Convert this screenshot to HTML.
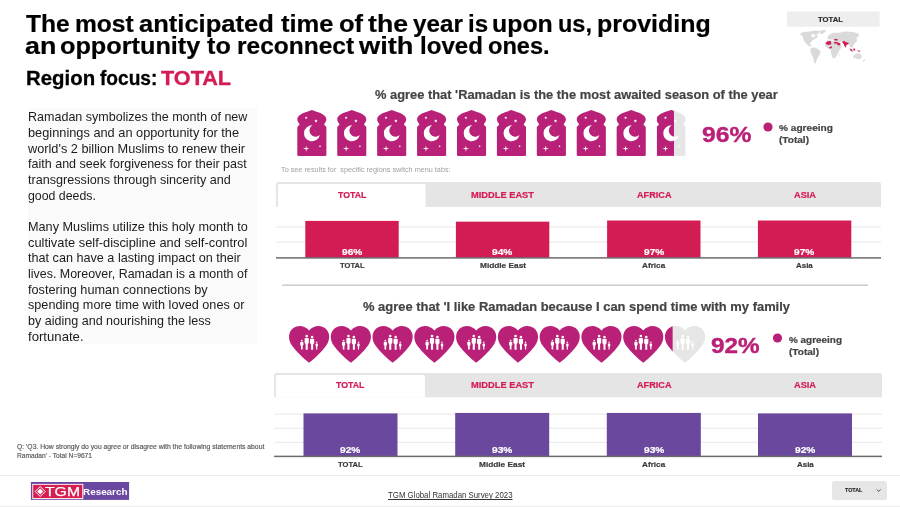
<!DOCTYPE html>
<html><head><meta charset="utf-8"><title>Ramadan survey</title>
<style>
html,body{margin:0;padding:0;background:#fff;}
body{width:900px;height:507px;position:relative;overflow:hidden;font-family:"Liberation Sans",sans-serif;}
.t{position:absolute;white-space:pre;line-height:1;transform-origin:0 50%;}
.b{position:absolute;}
svg{position:absolute;overflow:visible;}
#w{position:absolute;left:0;top:0;width:900px;height:507px;will-change:transform;}
</style></head><body><div id="w">
<div class="b" style="left:27.6px;top:108.4px;width:229.6px;height:235.8px;background:#fafafa"></div>
<svg style="left:0;top:0" width="900" height="507"><rect x="787" y="11.5" width="92.6" height="15.3" fill="#eeeeee"/></svg>
<svg width="0" height="0" style="left:0;top:0"><defs>
<clipPath id="ca"><path d="M1.2 46 Q0 46 0 44.8 L0 17.6 Q0 16.6 1.2 15.9 Q2.4 15.2 2.2 14.4 Q2 13.6 1.2 12.8 Q0 11.4 0 9.4 C0 4.4 7.2 2.7 14.55 0 C21.9 2.7 29.1 4.4 29.1 9.4 Q29.1 11.4 27.9 12.8 Q27.1 13.6 26.9 14.4 Q26.7 15.2 27.9 15.9 Q29.1 16.6 29.1 17.6 L29.1 44.8 Q29.1 46 27.9 46 Z"/></clipPath>
<clipPath id="ch"><path d="M20.2 36.9 C13.9 31.8 7.9 26 3.4 20 C-1.2 14.4 -1.1 6 4.4 2.1 C9.4 -1.4 16.2 -0.3 20.2 4.6 C24.2 -0.3 31 -1.4 36 2.1 C41.5 6 41.6 14.4 37 20 C32.5 26 26.5 31.8 20.2 36.9 Z"/></clipPath>
<g id="arch"><path d="M1.2 46 Q0 46 0 44.8 L0 17.6 Q0 16.6 1.2 15.9 Q2.4 15.2 2.2 14.4 Q2 13.6 1.2 12.8 Q0 11.4 0 9.4 C0 4.4 7.2 2.7 14.55 0 C21.9 2.7 29.1 4.4 29.1 9.4 Q29.1 11.4 27.9 12.8 Q27.1 13.6 26.9 14.4 Q26.7 15.2 27.9 15.9 Q29.1 16.6 29.1 17.6 L29.1 44.8 Q29.1 46 27.9 46 Z" fill="#b92077"/><path fill="#fff" fill-rule="evenodd" d="M15.1 15.42 A8 8 0 1 0 22.54 24.98 A6.1 6.1 0 1 1 15.1 15.42 Z"/><polygon points="8.90,6.40 9.34,7.29 10.33,7.44 9.61,8.13 9.78,9.11 8.90,8.65 8.02,9.11 8.19,8.13 7.47,7.44 8.46,7.29" fill="#fff"/><polygon points="18.70,9.40 19.20,10.41 20.32,10.57 19.51,11.36 19.70,12.48 18.70,11.95 17.70,12.48 17.89,11.36 17.08,10.57 18.20,10.41" fill="#fff"/><polygon points="8.90,35.50 9.47,38.13 12.10,38.70 9.47,39.27 8.90,41.90 8.33,39.27 5.70,38.70 8.33,38.13" fill="#fff"/><polygon points="22.70,35.10 23.12,35.88 23.90,36.30 23.12,36.72 22.70,37.50 22.28,36.72 21.50,36.30 22.28,35.88" fill="#fff"/><circle cx="17.7" cy="21.2" r="0.45" fill="#fff" opacity=".55"/></g>
<g id="heart"><path d="M20.2 36.9 C13.9 31.8 7.9 26 3.4 20 C-1.2 14.4 -1.1 6 4.4 2.1 C9.4 -1.4 16.2 -0.3 20.2 4.6 C24.2 -0.3 31 -1.4 36 2.1 C41.5 6 41.6 14.4 37 20 C32.5 26 26.5 31.8 20.2 36.9 Z" fill="#b92077"/><circle cx="12.9" cy="14.6" r="0.85" fill="#fff"/><path fill="#fff" d="M11.94 15.90 Q11.30 15.90 11.30 16.60 L11.30 19.13 L12.05 19.90 L12.05 23.60 L13.75 23.60 L13.75 19.90 L14.50 19.13 L14.50 16.60 Q14.50 15.90 13.86 15.90 Z"/><circle cx="17.8" cy="10.2" r="1.3" fill="#fff"/><path fill="#fff" d="M16.54 12.00 Q15.70 12.00 15.70 12.70 L15.70 17.00 L16.75 18.19 L16.75 23.90 L18.85 23.90 L18.85 18.19 L19.90 17.00 L19.90 12.70 Q19.90 12.00 19.06 12.00 Z"/><circle cx="23.2" cy="11.1" r="1.3" fill="#fff"/><path fill="#fff" d="M21.94 12.80 Q21.10 12.80 21.10 13.50 L21.10 17.46 L22.20 18.57 L22.20 23.90 L24.20 23.90 L24.20 18.57 L25.30 17.46 L25.30 13.50 Q25.30 12.80 24.46 12.80 Z"/><circle cx="27.8" cy="16.3" r="0.75" fill="#fff"/><path fill="#fff" d="M27.08 17.50 Q26.60 17.50 26.60 18.20 L26.60 20.10 L27.20 20.72 L27.20 23.70 L28.40 23.70 L28.40 20.72 L29.00 20.10 L29.00 18.20 Q29.00 17.50 28.52 17.50 Z"/></g>
<g id="archp"><g clip-path="url(#ca)"><rect x="0" y="0" width="29.1" height="46" fill="#e6e6e6"/><rect x="0" y="0" width="17.4" height="46" fill="#b92077"/></g><path fill="#fff" fill-rule="evenodd" d="M15.1 15.42 A8 8 0 1 0 22.54 24.98 A6.1 6.1 0 1 1 15.1 15.42 Z"/><polygon points="8.90,6.40 9.34,7.29 10.33,7.44 9.61,8.13 9.78,9.11 8.90,8.65 8.02,9.11 8.19,8.13 7.47,7.44 8.46,7.29" fill="#fff"/><polygon points="18.70,9.40 19.20,10.41 20.32,10.57 19.51,11.36 19.70,12.48 18.70,11.95 17.70,12.48 17.89,11.36 17.08,10.57 18.20,10.41" fill="#fff"/><polygon points="8.90,35.50 9.47,38.13 12.10,38.70 9.47,39.27 8.90,41.90 8.33,39.27 5.70,38.70 8.33,38.13" fill="#fff"/><polygon points="22.70,35.10 23.12,35.88 23.90,36.30 23.12,36.72 22.70,37.50 22.28,36.72 21.50,36.30 22.28,35.88" fill="#fff"/><circle cx="17.7" cy="21.2" r="0.45" fill="#fff" opacity=".55"/></g>
<g id="heartp"><g clip-path="url(#ch)"><rect x="-2" y="-2" width="45" height="40" fill="#e6e6e6"/><rect x="-2" y="-2" width="9.8" height="40" fill="#b92077"/></g><circle cx="12.9" cy="14.6" r="0.85" fill="#fff"/><path fill="#fff" d="M11.94 15.90 Q11.30 15.90 11.30 16.60 L11.30 19.13 L12.05 19.90 L12.05 23.60 L13.75 23.60 L13.75 19.90 L14.50 19.13 L14.50 16.60 Q14.50 15.90 13.86 15.90 Z"/><circle cx="17.8" cy="10.2" r="1.3" fill="#fff"/><path fill="#fff" d="M16.54 12.00 Q15.70 12.00 15.70 12.70 L15.70 17.00 L16.75 18.19 L16.75 23.90 L18.85 23.90 L18.85 18.19 L19.90 17.00 L19.90 12.70 Q19.90 12.00 19.06 12.00 Z"/><circle cx="23.2" cy="11.1" r="1.3" fill="#fff"/><path fill="#fff" d="M21.94 12.80 Q21.10 12.80 21.10 13.50 L21.10 17.46 L22.20 18.57 L22.20 23.90 L24.20 23.90 L24.20 18.57 L25.30 17.46 L25.30 13.50 Q25.30 12.80 24.46 12.80 Z"/><circle cx="27.8" cy="16.3" r="0.75" fill="#fff"/><path fill="#fff" d="M27.08 17.50 Q26.60 17.50 26.60 18.20 L26.60 20.10 L27.20 20.72 L27.20 23.70 L28.40 23.70 L28.40 20.72 L29.00 20.10 L29.00 18.20 Q29.00 17.50 28.52 17.50 Z"/></g>
</defs></svg>
<svg style="left:0;top:0" width="900" height="507"><use href="#arch" x="297.30" y="109.9"/><use href="#arch" x="337.22" y="109.9"/><use href="#arch" x="377.14" y="109.9"/><use href="#arch" x="417.06" y="109.9"/><use href="#arch" x="456.98" y="109.9"/><use href="#arch" x="496.90" y="109.9"/><use href="#arch" x="536.82" y="109.9"/><use href="#arch" x="576.74" y="109.9"/><use href="#arch" x="616.66" y="109.9"/><use href="#archp" x="656.58" y="109.9"/><use href="#heart" x="288.90" y="325.9"/><use href="#heart" x="330.67" y="325.9"/><use href="#heart" x="372.44" y="325.9"/><use href="#heart" x="414.21" y="325.9"/><use href="#heart" x="455.98" y="325.9"/><use href="#heart" x="497.75" y="325.9"/><use href="#heart" x="539.52" y="325.9"/><use href="#heart" x="581.29" y="325.9"/><use href="#heart" x="623.06" y="325.9"/><use href="#heartp" x="664.83" y="325.9"/><circle cx="768" cy="127" r="4.6" fill="#b92077"/><circle cx="777.5" cy="338" r="4.6" fill="#b92077"/><rect x="282" y="284.6" width="586" height="1.1" fill="#b9b9b9"/><rect x="0" y="475" width="900" height="1" fill="#ececec"/><rect x="0" y="506" width="900" height="1" fill="#eeeeee"/></svg>
<svg style="left:0;top:0" width="900" height="507"><path fill="#e5e5e5" d="M276.0 206.9 L276.0 184.7 Q276.0 182.1 278.6 182.1 L878.4 182.1 Q881 182.1 881 184.7 L881 206.9 Z"/><path fill="#fff" d="M277.9 206.9 L277.9 185.6 Q277.9 184 279.5 184 L424.0 184 Q425.6 184 425.6 185.6 L425.6 206.9 Z"/><rect x="276" y="241.40" width="605" height="1.2" fill="#ececec"/><rect x="276" y="226.40" width="605" height="1.2" fill="#ececec"/><rect x="305.30" y="220.90" width="93.4" height="37.00" fill="#d31c54"/><rect x="455.90" y="221.67" width="93.4" height="36.23" fill="#d31c54"/><rect x="607.10" y="220.52" width="93.4" height="37.38" fill="#d31c54"/><rect x="757.90" y="220.52" width="93.4" height="37.38" fill="#d31c54"/><rect x="276" y="257.15" width="605" height="1.5" fill="#6c6c6c"/></svg>
<svg style="left:0;top:0" width="900" height="507"><path fill="#e5e5e5" d="M274.1 397.25 L274.1 375.5 Q274.1 372.9 276.70000000000005 372.9 L879.4 372.9 Q882 372.9 882 375.5 L882 397.25 Z"/><path fill="#fff" d="M276.0 397.25 L276.0 376.5 Q276.0 374.9 277.6 374.9 L423.29999999999995 374.9 Q424.9 374.9 424.9 376.5 L424.9 397.25 Z"/><rect x="274.1" y="441.80" width="607.9" height="1.2" fill="#ececec"/><rect x="274.1" y="427.70" width="607.9" height="1.2" fill="#ececec"/><rect x="274.1" y="413.60" width="607.9" height="1.2" fill="#ececec"/><rect x="303.50" y="413.40" width="94" height="43.00" fill="#69489d"/><rect x="455.20" y="412.93" width="94" height="43.47" fill="#69489d"/><rect x="606.80" y="412.93" width="94" height="43.47" fill="#69489d"/><rect x="758.00" y="413.40" width="94" height="43.00" fill="#69489d"/><rect x="274.1" y="455.65" width="607.9" height="1.5" fill="#6c6c6c"/></svg>
<svg style="left:794px;top:26px" width="76" height="42" viewBox="0 0 900 497"><polygon fill="#dadada" points="65,100 100,75 180,65 250,52 300,60 295,85 265,100 285,125 255,150 225,165 200,185 188,212 212,238 185,242 150,215 120,180 105,140 95,110"/><polygon fill="#dadada" points="300,55 372,45 375,65 340,92 312,95"/><polygon fill="#dadada" points="200,262 240,250 290,275 316,305 300,345 272,390 258,440 240,442 228,380 205,330 194,290"/><polygon fill="#dadada" points="395,135 420,100 470,80 540,80 600,65 700,70 770,92 765,122 740,140 746,180 722,200 700,232 692,258 664,252 652,215 622,205 612,255 596,235 570,190 540,185 552,215 540,232 515,225 480,185 470,165 440,165 415,160 398,152"/><polygon fill="#dadada" points="368,198 400,170 470,166 520,196 542,228 572,236 546,276 522,320 492,376 462,386 440,330 436,282 400,262 370,236"/><polygon fill="#dadada" points="700,356 730,330 772,320 802,350 796,386 760,396 730,380 706,386"/><polygon fill="#dadada" points="810,412 840,390 846,400 820,422"/><polygon fill="#dadada" points="528,330 540,322 538,350 528,352"/><polygon fill="#fff" points="398,160 470,161 480,176 440,171 402,169"/><polygon fill="#fff" points="205,100 245,95 250,125 225,135 208,120"/><polygon fill="#d31c54" points="372,205 400,180 436,177 442,216 406,226 380,214"/><polygon fill="#d31c54" points="415,250 446,240 450,258 426,270"/><polygon fill="#d31c54" points="475,155 516,155 516,172 478,172"/><polygon fill="#d31c54" points="475,190 500,190 522,195 552,210 545,232 515,225 500,205 478,213"/><polygon fill="#d31c54" points="570,190 596,174 610,190 652,200 640,215 622,225 611,256 598,238 590,215"/><polygon fill="#d31c54" points="660,263 680,275 700,300 685,302 665,285"/><polygon fill="#d31c54" points="700,270 722,265 726,286 706,292"/><polygon fill="#d31c54" points="750,285 786,295 780,306 756,299"/></svg>
<svg style="left:0;top:0" width="900" height="507"><rect x="30.9" y="482.0" width="98.2" height="17.9" fill="#6a47a1"/><rect x="32.3" y="483.9" width="51.0" height="15.2" fill="#fff"/><rect x="33.2" y="484.8" width="49.1" height="13.3" fill="#d81e50"/><g transform="translate(40.2 491.5)"><path d="M0 -5 L5 0 L0 5 L-5 0 Z" fill="none" stroke="#fff" stroke-width="1.0"/><path d="M0 -3 L3 0 L0 3 L-3 0 Z" fill="#fff"/></g></svg>
<div class="b" style="left:832px;top:481.1px;width:54.7px;height:18.7px;background:#e6e6e6;border-radius:2.5px"></div>
<svg style="left:0;top:0" width="900" height="507"><path d="M876.7 489.5 L878.7 491.4 L880.7 489.5" fill="none" stroke="#4a4a4a" stroke-width="1"/></svg>
<span class="t" style="left:26.10px;top:13.30px;font-size:23px;font-weight:700;color:#000;-webkit-text-stroke:0.2px #000;transform:scaleX(1.0700);">The</span>
<span class="t" style="left:74.53px;top:13.30px;font-size:23px;font-weight:700;color:#000;-webkit-text-stroke:0.2px #000;transform:scaleX(1.0685);">most</span>
<span class="t" style="left:139.19px;top:13.30px;font-size:23px;font-weight:700;color:#000;-webkit-text-stroke:0.2px #000;transform:scaleX(1.1101);">anticipated</span>
<span class="t" style="left:280.60px;top:13.30px;font-size:23px;font-weight:700;color:#000;-webkit-text-stroke:0.2px #000;transform:scaleX(1.1106);">time</span>
<span class="t" style="left:338.89px;top:13.30px;font-size:23px;font-weight:700;color:#000;-webkit-text-stroke:0.2px #000;transform:scaleX(1.1095);">of</span>
<span class="t" style="left:368.30px;top:13.30px;font-size:23px;font-weight:700;color:#000;-webkit-text-stroke:0.2px #000;transform:scaleX(1.1618);">the</span>
<span class="t" style="left:413.30px;top:13.30px;font-size:23px;font-weight:700;color:#000;-webkit-text-stroke:0.2px #000;transform:scaleX(1.0532);">year</span>
<span class="t" style="left:467.85px;top:13.30px;font-size:23px;font-weight:700;color:#000;-webkit-text-stroke:0.2px #000;transform:scaleX(1.0471);">is</span>
<span class="t" style="left:492.22px;top:13.30px;font-size:23px;font-weight:700;color:#000;-webkit-text-stroke:0.2px #000;transform:scaleX(1.0815);">upon</span>
<span class="t" style="left:557.88px;top:13.30px;font-size:23px;font-weight:700;color:#000;-webkit-text-stroke:0.2px #000;transform:scaleX(1.0226);">us,</span>
<span class="t" style="left:596.71px;top:13.30px;font-size:23px;font-weight:700;color:#000;-webkit-text-stroke:0.2px #000;transform:scaleX(1.0853);">providing</span>
<span class="t" style="left:25.23px;top:35.30px;font-size:23px;font-weight:700;color:#000;-webkit-text-stroke:0.2px #000;transform:scaleX(1.1667);">an</span>
<span class="t" style="left:60.00px;top:35.30px;font-size:23px;font-weight:700;color:#000;-webkit-text-stroke:0.2px #000;transform:scaleX(1.0984);">opportunity</span>
<span class="t" style="left:207.20px;top:35.30px;font-size:23px;font-weight:700;color:#000;-webkit-text-stroke:0.2px #000;transform:scaleX(1.0952);">to</span>
<span class="t" style="left:236.73px;top:35.30px;font-size:23px;font-weight:700;color:#000;-webkit-text-stroke:0.2px #000;transform:scaleX(1.0651);">reconnect</span>
<span class="t" style="left:358.90px;top:35.30px;font-size:23px;font-weight:700;color:#000;-webkit-text-stroke:0.2px #000;transform:scaleX(1.1844);">with</span>
<span class="t" style="left:419.85px;top:35.30px;font-size:23px;font-weight:700;color:#000;-webkit-text-stroke:0.2px #000;transform:scaleX(1.0483);">loved</span>
<span class="t" style="left:488.37px;top:35.30px;font-size:23px;font-weight:700;color:#000;-webkit-text-stroke:0.2px #000;transform:scaleX(1.0259);">ones.</span>
<span class="t" style="left:25.65px;top:69.30px;font-size:19.4px;font-weight:700;color:#000;-webkit-text-stroke:0.3px #000;transform:scaleX(1.0516);">Region</span>
<span class="t" style="left:100.10px;top:69.30px;font-size:19.4px;font-weight:700;color:#000;-webkit-text-stroke:0.3px #000;transform:scaleX(0.9860);">focus:</span>
<span class="t" style="left:161.20px;top:67.30px;font-size:21px;font-weight:700;color:#d31c54;-webkit-text-stroke:0.35px #d31c54;transform:scaleX(1.0299);">TOTAL</span>
<span class="t" style="left:28.00px;top:111.30px;font-size:12.6px;font-weight:400;color:#1c1c1c;transform:scaleX(0.9949);">Ramadan symbolizes the month of new</span>
<span class="t" style="left:28.00px;top:127.30px;font-size:12.6px;font-weight:400;color:#1c1c1c;transform:scaleX(1.0151);">beginnings and an opportunity for the</span>
<span class="t" style="left:28.00px;top:143.30px;font-size:12.6px;font-weight:400;color:#1c1c1c;transform:scaleX(1.0117);">world's 2 billion Muslims to renew their</span>
<span class="t" style="left:28.00px;top:158.30px;font-size:12.6px;font-weight:400;color:#1c1c1c;transform:scaleX(0.9953);">faith and seek forgiveness for their past</span>
<span class="t" style="left:28.00px;top:174.30px;font-size:12.6px;font-weight:400;color:#1c1c1c;transform:scaleX(1.0024);">transgressions through sincerity and</span>
<span class="t" style="left:28.00px;top:190.30px;font-size:12.6px;font-weight:400;color:#1c1c1c;transform:scaleX(0.9794);">good deeds.</span>
<span class="t" style="left:28.00px;top:221.30px;font-size:12.6px;font-weight:400;color:#1c1c1c;transform:scaleX(1.0065);">Many Muslims utilize this holy month to</span>
<span class="t" style="left:28.00px;top:237.30px;font-size:12.6px;font-weight:400;color:#1c1c1c;transform:scaleX(1.0204);">cultivate self-discipline and self-control</span>
<span class="t" style="left:28.00px;top:252.30px;font-size:12.6px;font-weight:400;color:#1c1c1c;transform:scaleX(1.0032);">that can have a lasting impact on their</span>
<span class="t" style="left:28.00px;top:268.30px;font-size:12.6px;font-weight:400;color:#1c1c1c;transform:scaleX(0.9887);">lives. Moreover, Ramadan is a month of</span>
<span class="t" style="left:28.00px;top:284.30px;font-size:12.6px;font-weight:400;color:#1c1c1c;transform:scaleX(1.0100);">fostering human connections by</span>
<span class="t" style="left:28.00px;top:299.30px;font-size:12.6px;font-weight:400;color:#1c1c1c;transform:scaleX(1.0041);">spending more time with loved ones or</span>
<span class="t" style="left:28.00px;top:315.30px;font-size:12.6px;font-weight:400;color:#1c1c1c;transform:scaleX(0.9960);">by aiding and nourishing the less</span>
<span class="t" style="left:28.00px;top:331.30px;font-size:12.6px;font-weight:400;color:#1c1c1c;transform:scaleX(1.0447);">fortunate.</span>
<span class="t" style="left:375.20px;top:89.30px;font-size:12.6px;font-weight:700;color:#444444;-webkit-text-stroke:0.2px #444444;transform:scaleX(1.0217);">% agree that 'Ramadan is the the most awaited season of the year</span>
<span class="t" style="left:363.00px;top:301.30px;font-size:12.6px;font-weight:700;color:#444444;-webkit-text-stroke:0.2px #444444;transform:scaleX(1.0266);">% agree that 'I like Ramadan because I can spend time with my family</span>
<span class="t" style="left:701.70px;top:124.30px;font-size:22.5px;font-weight:700;color:#b92077;-webkit-text-stroke:0.4px #b92077;transform:scaleX(1.0989);">96%</span>
<span class="t" style="left:711.30px;top:335.30px;font-size:22.5px;font-weight:700;color:#b92077;-webkit-text-stroke:0.4px #b92077;transform:scaleX(1.0789);">92%</span>
<span class="t" style="left:779.00px;top:124.30px;font-size:8.6px;font-weight:700;color:#444444;-webkit-text-stroke:0.2px #444444;transform:scaleX(1.1775);">% agreeing</span>
<span class="t" style="left:779.00px;top:136.30px;font-size:8.6px;font-weight:700;color:#444444;-webkit-text-stroke:0.2px #444444;transform:scaleX(1.1707);">(Total)</span>
<span class="t" style="left:788.50px;top:336.30px;font-size:8.6px;font-weight:700;color:#444444;-webkit-text-stroke:0.2px #444444;transform:scaleX(1.1557);">% agreeing</span>
<span class="t" style="left:788.50px;top:348.30px;font-size:8.6px;font-weight:700;color:#444444;-webkit-text-stroke:0.2px #444444;transform:scaleX(1.1707);">(Total)</span>
<span class="t" style="left:281.40px;top:166.30px;font-size:7.2px;font-weight:400;color:#a0a0a0;transform:scaleX(1.0108);">To see results for &nbsp;specific regions switch menu tabs:</span>
<span class="t" style="left:337.75px;top:191.30px;font-size:8.9px;font-weight:700;color:#d31c54;-webkit-text-stroke:0.2px #d31c54;transform:scaleX(0.9908);">TOTAL</span>
<span class="t" style="left:471.10px;top:191.30px;font-size:8.9px;font-weight:700;color:#d31c54;-webkit-text-stroke:0.2px #d31c54;transform:scaleX(1.0473);">MIDDLE EAST</span>
<span class="t" style="left:636.55px;top:191.30px;font-size:8.9px;font-weight:700;color:#d31c54;-webkit-text-stroke:0.2px #d31c54;transform:scaleX(1.0289);">AFRICA</span>
<span class="t" style="left:793.60px;top:191.30px;font-size:8.9px;font-weight:700;color:#d31c54;-webkit-text-stroke:0.2px #d31c54;transform:scaleX(1.0368);">ASIA</span>
<span class="t" style="left:341.85px;top:248.30px;font-size:8.4px;font-weight:700;color:#fff;-webkit-text-stroke:0.2px #fff;transform:scaleX(1.2108);">96%</span>
<span class="t" style="left:339.90px;top:262.30px;font-size:8.1px;font-weight:700;color:#3a3a3a;-webkit-text-stroke:0.2px #3a3a3a;transform:scaleX(0.9377);">TOTAL</span>
<span class="t" style="left:492.45px;top:248.30px;font-size:8.4px;font-weight:700;color:#fff;-webkit-text-stroke:0.2px #fff;transform:scaleX(1.2108);">94%</span>
<span class="t" style="left:479.80px;top:262.30px;font-size:8.1px;font-weight:700;color:#3a3a3a;-webkit-text-stroke:0.2px #3a3a3a;transform:scaleX(1.0226);">Middle East</span>
<span class="t" style="left:643.65px;top:248.30px;font-size:8.4px;font-weight:700;color:#fff;-webkit-text-stroke:0.2px #fff;transform:scaleX(1.2108);">97%</span>
<span class="t" style="left:642.40px;top:262.30px;font-size:8.1px;font-weight:700;color:#3a3a3a;-webkit-text-stroke:0.2px #3a3a3a;transform:scaleX(1.0108);">Africa</span>
<span class="t" style="left:794.45px;top:248.30px;font-size:8.4px;font-weight:700;color:#fff;-webkit-text-stroke:0.2px #fff;transform:scaleX(1.2108);">97%</span>
<span class="t" style="left:796.40px;top:262.30px;font-size:8.1px;font-weight:700;color:#3a3a3a;-webkit-text-stroke:0.2px #3a3a3a;transform:scaleX(0.9819);">Asia</span>
<span class="t" style="left:336.25px;top:381.30px;font-size:8.9px;font-weight:700;color:#d31c54;-webkit-text-stroke:0.2px #d31c54;transform:scaleX(0.9908);">TOTAL</span>
<span class="t" style="left:470.70px;top:381.30px;font-size:8.9px;font-weight:700;color:#d31c54;-webkit-text-stroke:0.2px #d31c54;transform:scaleX(1.0473);">MIDDLE EAST</span>
<span class="t" style="left:636.55px;top:381.30px;font-size:8.9px;font-weight:700;color:#d31c54;-webkit-text-stroke:0.2px #d31c54;transform:scaleX(1.0289);">AFRICA</span>
<span class="t" style="left:794.00px;top:381.30px;font-size:8.9px;font-weight:700;color:#d31c54;-webkit-text-stroke:0.2px #d31c54;transform:scaleX(1.0368);">ASIA</span>
<span class="t" style="left:340.35px;top:446.30px;font-size:8.4px;font-weight:700;color:#fff;-webkit-text-stroke:0.2px #fff;transform:scaleX(1.2108);">92%</span>
<span class="t" style="left:338.40px;top:461.30px;font-size:8.1px;font-weight:700;color:#3a3a3a;-webkit-text-stroke:0.2px #3a3a3a;transform:scaleX(0.9377);">TOTAL</span>
<span class="t" style="left:492.05px;top:446.30px;font-size:8.4px;font-weight:700;color:#fff;-webkit-text-stroke:0.2px #fff;transform:scaleX(1.2108);">93%</span>
<span class="t" style="left:479.40px;top:461.30px;font-size:8.1px;font-weight:700;color:#3a3a3a;-webkit-text-stroke:0.2px #3a3a3a;transform:scaleX(1.0226);">Middle East</span>
<span class="t" style="left:643.65px;top:446.30px;font-size:8.4px;font-weight:700;color:#fff;-webkit-text-stroke:0.2px #fff;transform:scaleX(1.2108);">93%</span>
<span class="t" style="left:642.40px;top:461.30px;font-size:8.1px;font-weight:700;color:#3a3a3a;-webkit-text-stroke:0.2px #3a3a3a;transform:scaleX(1.0108);">Africa</span>
<span class="t" style="left:794.85px;top:446.30px;font-size:8.4px;font-weight:700;color:#fff;-webkit-text-stroke:0.2px #fff;transform:scaleX(1.2108);">92%</span>
<span class="t" style="left:796.80px;top:461.30px;font-size:8.1px;font-weight:700;color:#3a3a3a;-webkit-text-stroke:0.2px #3a3a3a;transform:scaleX(0.9819);">Asia</span>
<span class="t" style="left:818.20px;top:16.30px;font-size:7.2px;font-weight:700;color:#2b2b2b;-webkit-text-stroke:0.15px #2b2b2b;transform:scaleX(1.0731);">TOTAL</span>
<span class="t" style="left:16.70px;top:444.30px;font-size:6.9px;font-weight:400;color:#555555;-webkit-text-stroke:0.15px #555555;transform:scaleX(0.9851);">Q: 'Q3. How strongly do you agree or disagree with the following statements about</span>
<span class="t" style="left:16.70px;top:453.30px;font-size:6.9px;font-weight:400;color:#555555;-webkit-text-stroke:0.15px #555555;transform:scaleX(0.9615);">Ramadan' - Total N=9671</span>
<span class="t" style="left:387.80px;top:492.30px;font-size:8.2px;font-weight:400;color:#333;text-decoration:underline;transform:scaleX(0.9565);">TGM Global Ramadan Survey 2023</span>
<span class="t" style="left:845.00px;top:488.30px;font-size:5.6px;font-weight:700;color:#222;-webkit-text-stroke:0.15px #222;transform:scaleX(0.9545);">TOTAL</span>
<span class="t" style="left:45.40px;top:485.30px;font-size:13.4px;font-weight:400;color:#fff;-webkit-text-stroke:0.25px #fff;transform:scaleX(1.1765);">TGM</span>
<span class="t" style="left:82.80px;top:488.30px;font-size:9.2px;font-weight:700;color:#fff;transform:scaleX(1.0755);">Research</span>
</div></body></html>
